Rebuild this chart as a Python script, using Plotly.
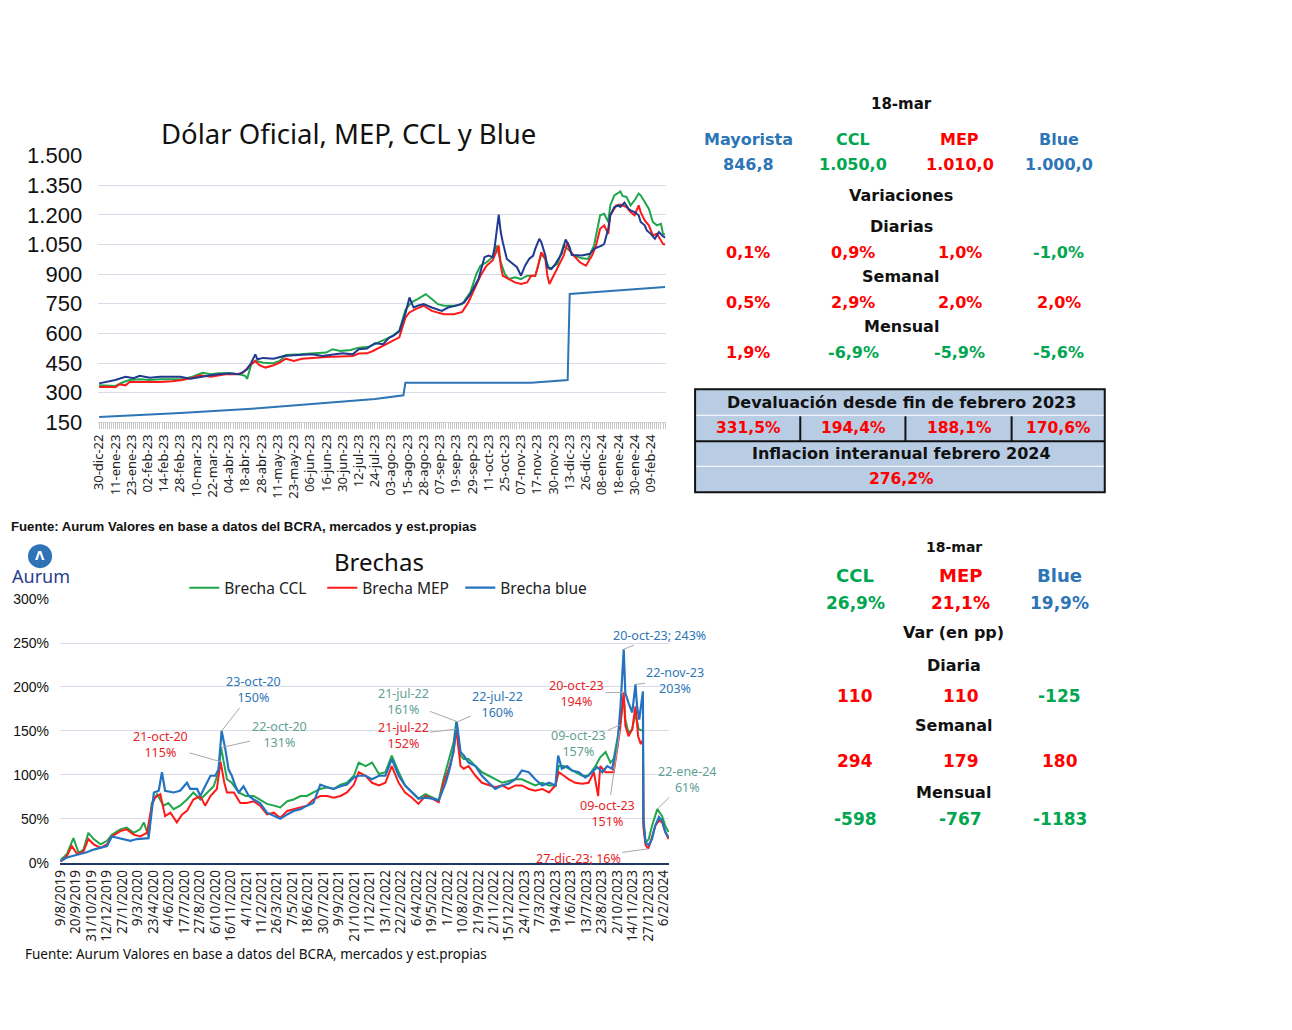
import plotly.graph_objects as go

# Page geometry: the plot sits inside the browser's default 8px body margin, and the captured
# picture maps page pixels to picture pixels as  pic = S * page + C  (measured on earlier runs).
# Layout positions below are given in reference-picture pixels and converted here.
MARGIN = 8
SX, SY = 0.989, 0.9765
CX, CY = 3.1, 3.4
W, H = 1276, 1014
def fx(x): return (x - CX) / SX - MARGIN
def fy(y): return (y - CY) / SY - MARGIN
def px(x): return fx(x) / W
def py(y): return 1 - fy(y) / H

# ---------------- TOP CHART DATA (x = business-day row index) ----------------
top_ticklabels = ["30-dic-22","11-ene-23","23-ene-23","02-feb-23","14-feb-23","28-feb-23","10-mar-23",
    "22-mar-23","04-abr-23","18-abr-23","28-abr-23","11-may-23","23-may-23","06-jun-23","16-jun-23",
    "30-jun-23","12-jul-23","24-jul-23","03-ago-23","15-ago-23","28-ago-23","07-sep-23","19-sep-23",
    "29-sep-23","11-oct-23","25-oct-23","07-nov-23","17-nov-23","30-nov-23","13-dic-23","26-dic-23",
    "08-ene-24","18-ene-24","30-ene-24","09-feb-24"]
top_tick_rows = [i * 8 for i in range(len(top_ticklabels))]
top_y_ticks = [150, 300, 450, 600, 750, 900, 1050, 1200, 1350, 1500]
top_y_labels = ["150", "300", "450", "600", "750", "900", "1.050", "1.200", "1.350", "1.500"]

oficial_row = [0, 40, 80, 120, 136, 150, 151, 213, 231, 232, 279]
oficial_val = [177, 197, 222, 256, 268, 287, 350, 350, 364, 800, 835]

ccl_row = [0,4,8,12,15,20,25,30,36,41,46,51,55,59,64,69,72,73,75,77,81,86,89,92,99,105,112,115,119,124,128,
    133,138,143,145,148,151,154,157,161,164,167,170,175,179,183,186,188,191,194,196,198,200,202,205,208,211,
    215,216,218,220,222,226,229,232,234,238,241,244,247,249,251,252,254,257,258,260,262,264,266,267,269,271,
    273,275,277,278,279]
ccl_val = [337,334,334,354,364,368,364,368,368,368,381,401,393,398,398,393,385,370,444,461,452,449,461,491,494,
    498,503,520,511,516,528,533,554,579,590,615,720,757,774,799,774,748,740,740,748,808,901,943,960,986,1045,
    960,901,875,884,875,892,892,926,1003,977,926,952,1045,1019,994,980,977,1045,1198,1206,1164,1248,1299,1319,
    1296,1291,1248,1274,1308,1299,1265,1231,1164,1147,1155,1104,1100]

mep_row = [0,4,8,10,13,15,22,30,36,41,46,50,55,59,63,68,71,74,77,79,82,86,89,92,96,100,105,112,119,125,128,132,
    135,140,145,148,151,153,156,160,164,167,170,175,179,182,185,188,191,194,196,197,198,199,202,205,208,211,
    213,215,216,218,220,221,222,224,226,229,231,232,234,237,240,243,245,247,249,251,252,255,257,260,262,264,
    266,267,269,271,273,275,278,279]
mep_val = [329,330,327,342,337,354,354,354,358,364,376,388,381,388,395,393,401,435,461,439,427,439,452,472,461,
    472,477,481,483,486,498,499,511,537,562,580,680,706,723,740,714,706,697,697,709,757,825,892,943,969,1019,
    1045,943,892,875,858,850,858,892,892,926,1011,977,892,850,892,935,994,1062,1019,994,960,943,994,1045,1130,
    1147,1104,1198,1248,1252,1240,1214,1198,1248,1214,1172,1147,1096,1104,1053,1050]

blue_row = [0,4,8,13,17,20,25,30,35,40,45,50,55,59,64,69,73,75,77,78,81,86,91,96,101,105,110,115,120,125,128,132,
    136,140,143,145,148,151,153,155,157,160,164,169,172,177,180,183,187,190,192,194,195,197,198,199,201,203,
    206,208,210,212,214,215,217,218,220,221,223,225,228,230,232,233,238,242,244,248,249,251,252,254,256,257,
    259,261,262,264,266,267,269,270,272,274,276,278,279]
blue_val = [347,354,364,380,373,385,376,381,381,380,371,381,388,393,398,393,418,452,494,469,476,472,486,489,491,
    494,486,494,499,494,520,523,550,545,579,587,610,700,782,731,740,748,731,714,731,743,757,799,875,986,994,986,
    1036,1201,1113,1062,977,960,935,892,943,977,994,1028,1079,1062,994,935,926,952,1003,1075,1036,997,994,1003,
    1028,1045,1053,1130,1198,1240,1248,1240,1262,1231,1223,1214,1198,1164,1147,1121,1104,1079,1113,1092,1085]

# ---------------- BOTTOM CHART DATA (x = business-day row index) ----------------
bot_ticklabels = ["9/8/2019","20/9/2019","31/10/2019","12/12/2019","27/1/2020","9/3/2020","23/4/2020",
    "4/6/2020","17/7/2020","27/8/2020","6/10/2020","16/11/2020","4/1/2021","11/2/2021","26/3/2021","7/5/2021",
    "18/6/2021","30/7/2021","9/9/2021","21/10/2021","1/12/2021","13/1/2022","22/2/2022","6/4/2022","19/5/2022",
    "1/7/2022","10/8/2022","21/9/2022","2/11/2022","15/12/2022","24/1/2023","7/3/2023","19/4/2023","1/6/2023",
    "13/7/2023","23/8/2023","2/10/2023","14/11/2023","27/12/2023","6/2/2024"]
bot_tick_rows = [i * 29 for i in range(len(bot_ticklabels))]
bot_y_ticks = [0, 50, 100, 150, 200, 250, 300]
bot_y_labels = ["0%", "50%", "100%", "150%", "200%", "250%", "300%"]

b_ccl_row = [0,12,24,34,43,52,62,75,87,96,112,124,137,149,156,165,171,181,193,202,212,224,237,249,262,275,287,
    296,301,312,321,334,347,362,374,387,400,412,425,437,450,462,474,487,500,512,525,537,550,559,572,584,597,
    609,621,634,646,659,671,684,697,709,718,728,737,742,750,756,765,778,790,803,815,828,840,853,865,878,890,
    903,916,928,934,944,953,965,978,990,1003,1012,1022,1031,1037,1049,1056,1059,1065,1072,1078,1084,1092,1093,
    1097,1103,1109,1119,1124,1128,1134,1140]
b_ccl_val = [3,10,28,11,15,34,27,21,25,32,38,40,34,38,46,30,68,78,65,68,61,65,72,80,72,80,87,103,131,95,91,80,
    76,76,72,67,65,63,70,72,76,76,80,84,86,84,89,91,99,114,110,114,101,103,122,103,88,80,73,78,74,71,95,118,137,
    161,122,118,118,110,103,99,95,91,93,95,95,91,88,91,88,88,110,110,107,103,99,99,110,120,126,114,118,157,190,
    163,148,152,171,152,150,45,23,27,42,61,57,53,42,35]

b_mep_row = [0,12,21,31,43,52,62,75,87,96,112,124,137,149,162,171,177,187,196,206,218,228,237,249,262,271,281,
    293,300,307,312,325,337,349,362,374,387,400,412,425,437,450,462,474,487,500,512,525,537,550,559,572,584,
    597,609,621,634,646,659,671,684,697,709,718,728,737,742,750,756,765,778,790,803,815,828,840,853,865,878,
    890,903,916,928,934,944,953,965,978,990,1000,1008,1012,1022,1037,1041,1049,1056,1059,1065,1072,1078,1083,
    1088,1092,1093,1097,1102,1106,1115,1122,1128,1134,1140]
b_mep_val = [1,8,19,10,13,27,21,17,21,30,36,38,32,30,34,65,74,78,53,57,46,55,59,72,76,65,76,84,115,91,80,80,68,
    68,70,65,55,57,51,59,61,63,65,72,76,76,74,76,80,89,103,99,91,88,91,110,91,80,74,67,76,73,69,91,107,126,152,
    110,107,110,99,91,88,86,88,84,88,88,84,82,84,80,88,103,99,95,91,90,91,103,76,110,103,103,118,151,194,156,
    144,152,178,144,135,140,40,20,16,23,42,48,46,35,27]

b_blue_row = [0,12,24,37,49,62,75,87,96,112,131,143,156,165,175,184,190,196,212,224,237,243,256,262,271,281,290,
    296,302,309,315,321,328,334,343,353,362,374,387,400,412,425,437,450,462,474,487,500,512,525,537,550,559,
    572,584,597,609,621,634,646,659,671,684,697,709,722,731,737,743,750,756,765,778,790,803,815,828,840,853,
    865,878,890,903,916,928,933,940,950,959,972,984,997,1006,1016,1025,1034,1044,1050,1056,1059,1065,1072,
    1078,1081,1085,1092,1093,1097,1103,1109,1115,1122,1128,1134,1140]
b_blue_val = [2,6,8,10,12,15,17,19,30,28,25,27,28,28,80,82,103,82,80,82,91,84,84,76,87,99,99,106,150,129,106,99,
    87,80,87,76,72,68,57,53,50,55,59,61,65,68,89,86,84,87,89,97,99,99,95,99,99,118,99,88,80,73,74,73,71,91,110,
    129,160,126,122,114,110,99,91,84,88,90,95,105,103,95,88,91,88,122,107,110,105,103,97,103,109,103,110,107,133,
    178,243,193,182,171,203,178,163,195,50,23,20,27,42,52,48,35,29]

# annotated points: (series, row, value, label)
ann_series = ["mep", "blue", "ccl", "ccl", "blue", "mep", "mep", "ccl", "blue", "blue", "mep", "ccl", "mep"]
ann_rows = [300, 302, 301, 742, 743, 742, 1056, 1049, 1056, 1078, 1049, 1119, 1102]
ann_vals = [115, 150, 131, 161, 160, 152, 194, 157, 243, 203, 151, 61, 16]
ann_labels = ["21-oct-20<br>115%", "23-oct-20<br>150%", "22-oct-20<br>131%", "21-jul-22<br>161%",
    "22-jul-22<br>160%", "21-jul-22<br>152%", "20-oct-23<br>194%", "09-oct-23<br>157%", "20-oct-23; 243%",
    "22-nov-23<br>203%", "09-oct-23<br>151%", "22-ene-24<br>61%", "27-dic-23; 16%"]
ann_offsets = [(-60, -17), (32, -41), (58, -13), (-53, -20), (41, -18), (-53, 6), (-47, 1), (-41, 19),
    (36, -14), (40, -4), (-12, 83), (30, -30), (-70, 10)]

# ---------------- TABLES ----------------
t1_heads = ["Mayorista", "CCL", "MEP", "Blue"]
t1_prices = ["846,8", "1.050,0", "1.010,0", "1.000,0"]
t1_diarias = ["0,1%", "0,9%", "1,0%", "-1,0%"]
t1_semanal = ["0,5%", "2,9%", "2,0%", "2,0%"]
t1_mensual = ["1,9%", "-6,9%", "-5,9%", "-5,6%"]
t1_deval = ["331,5%", "194,4%", "188,1%", "170,6%"]
t1_inflacion = "276,2%"

t2_heads = ["CCL", "MEP", "Blue"]
t2_brecha = ["26,9%", "21,1%", "19,9%"]
t2_diaria = ["110", "110", "-125"]
t2_semanal = ["294", "179", "180"]
t2_mensual = ["-598", "-767", "-1183"]

# ---------------- STYLE ----------------
GREEN = "#1fa64b"
RED = "#ff1a1a"
NAVY = "#1f3a8f"
OFI = "#2e75b6"
BBLUE = "#2473c0"
TEAL = "#5f9f93"
TXT_BLUE = "#2e75b6"
TXT_GREEN = "#00a650"
TXT_RED = "#ff0000"
GRID = "#d9dbe8"
ROUND = "Noto Sans, Lato, sans-serif"
TAB = "DejaVu Sans, Verdana, sans-serif"

fig = go.Figure()
fig.add_trace(go.Scatter(x=oficial_row, y=oficial_val, mode="lines", line=dict(color=OFI, width=2),
                         xaxis="x", yaxis="y", showlegend=False, name="Oficial"))
fig.add_trace(go.Scatter(x=ccl_row, y=ccl_val, mode="lines", line=dict(color=GREEN, width=2),
                         xaxis="x", yaxis="y", showlegend=False, name="CCL"))
fig.add_trace(go.Scatter(x=mep_row, y=mep_val, mode="lines", line=dict(color=RED, width=2),
                         xaxis="x", yaxis="y", showlegend=False, name="MEP"))
fig.add_trace(go.Scatter(x=blue_row, y=blue_val, mode="lines", line=dict(color=NAVY, width=2),
                         xaxis="x", yaxis="y", showlegend=False, name="Blue"))

fig.add_trace(go.Scatter(x=b_ccl_row, y=b_ccl_val, mode="lines", line=dict(color=GREEN, width=2),
                         xaxis="x2", yaxis="y2", name="Brecha CCL"))
fig.add_trace(go.Scatter(x=b_mep_row, y=b_mep_val, mode="lines", line=dict(color=RED, width=2),
                         xaxis="x2", yaxis="y2", name="Brecha MEP"))
fig.add_trace(go.Scatter(x=b_blue_row, y=b_blue_val, mode="lines", line=dict(color=BBLUE, width=2.2),
                         xaxis="x2", yaxis="y2", name="Brecha blue"))

ann = []
def txt(x, y, s, color="#111", size=15, family=TAB, bold=True, xanchor="center"):
    ann.append(dict(x=px(x), y=py(y), xref="paper", yref="paper", showarrow=False,
                    text=("<b>%s</b>" % s) if bold else s, xanchor=xanchor, yanchor="middle",
                    font=dict(color=color, size=size, family=family)))

# titles & sources
txt(350, 133, "Dólar Oficial, MEP, CCL y Blue", "#111", 27.5, ROUND, bold=False)
txt(380, 561, "Brechas", "#111", 24, ROUND, bold=False)
txt(11.5, 526, "Fuente: Aurum Valores en base a datos del BCRA, mercados y est.propias", "#111", 13.2,
    "Liberation Sans, Arial, sans-serif", bold=True, xanchor="left")
txt(25, 954, "Fuente: Aurum Valores en base a datos del BCRA, mercados y est.propias", "#111", 13.5,
    ROUND, bold=False, xanchor="left")
# logo
txt(42, 556, "Λ", "white", 12, "DejaVu Sans", bold=True)
txt(43, 576, "Aurum", "#2b3d8c", 18, ROUND, bold=False)

# top table
cols1 = [749, 854, 960, 1059]
col_colors = [TXT_BLUE, TXT_GREEN, TXT_RED, TXT_BLUE]
def vcolor(s):
    return TXT_GREEN if s.startswith("-") else TXT_RED
txt(902, 103, "18-mar", "#111", 15)
for c, h, p, col in zip(cols1, t1_heads, t1_prices, col_colors):
    txt(c, 139, h, col, 16)
    txt(c, 164, p, col, 16)
txt(902, 195, "Variaciones", "#111", 16)
txt(902, 226, "Diarias", "#111", 16)
txt(902, 276, "Semanal", "#111", 16)
txt(902, 326, "Mensual", "#111", 16)
for c, a, b, m in zip(cols1, t1_diarias, t1_semanal, t1_mensual):
    txt(c, 252, a, vcolor(a), 16)
    txt(c, 302, b, vcolor(b), 16)
    txt(c, 352, m, vcolor(m), 16)

# box
deval_cols = [749, 854, 960, 1059]
txt(902, 402, "Devaluación desde fin de febrero 2023", "#111", 16)
for c, v in zip(deval_cols, t1_deval):
    txt(c, 428, v, TXT_RED, 15.5)
txt(902, 453, "Inflacion interanual febrero 2024", "#111", 16)
txt(902, 479, t1_inflacion, TXT_RED, 15.5)

# bottom table
cols2 = [856, 961, 1060]
col2_colors = [TXT_GREEN, TXT_RED, TXT_BLUE]
txt(954, 547, "18-mar", "#111", 14)
for c, h, v, col in zip(cols2, t2_heads, t2_brecha, col2_colors):
    txt(c, 575, h, col, 18)
    txt(c, 603, v, col, 17)
txt(954, 632, "Var (en pp)", "#111", 16)
txt(954, 665, "Diaria", "#111", 16)
txt(954, 726, "Semanal", "#111", 16)
txt(954, 793, "Mensual", "#111", 16)
for c, a, b, m in zip(cols2, t2_diaria, t2_semanal, t2_mensual):
    txt(c, 696, a, vcolor(a), 17)
    txt(c, 761, b, vcolor(b), 17)
    txt(c, 819, m, vcolor(m), 17)

# chart annotations with leader lines
ann_colors = {"mep": "#e8231f", "blue": "#2e75b6", "ccl": TEAL}
for s, r, v, lab, (dx, dy) in zip(ann_series, ann_rows, ann_vals, ann_labels, ann_offsets):
    ann.append(dict(x=r, y=v, xref="x2", yref="y2", text=lab, showarrow=True, arrowhead=0,
                    arrowwidth=1, arrowcolor="#a8a8a8", ax=dx, ay=dy, standoff=0,
                    font=dict(color=ann_colors[s], size=12.5, family=ROUND)))

shapes = [
    # logo circle
    dict(type="circle", xref="paper", yref="paper", x0=px(30), x1=px(54), y0=py(568), y1=py(544),
         fillcolor="#2f72b5", line=dict(width=0)),
    # box
    dict(type="rect", xref="paper", yref="paper", x0=px(696), x1=px(1105), y0=py(492), y1=py(389),
         fillcolor="#b8cce4", line=dict(color="#111", width=2), layer="below"),
    dict(type="line", xref="paper", yref="paper", x0=px(697), x1=px(1104), y0=py(415), y1=py(415),
         line=dict(color="white", width=1)),
    dict(type="line", xref="paper", yref="paper", x0=px(697), x1=px(1104), y0=py(466), y1=py(466),
         line=dict(color="white", width=1)),
    dict(type="line", xref="paper", yref="paper", x0=px(696), x1=px(1105), y0=py(441), y1=py(441),
         line=dict(color="#111", width=2)),
]
for xv in [801, 906, 1012]:
    shapes.append(dict(type="line", xref="paper", yref="paper", x0=px(xv), x1=px(xv), y0=py(441), y1=py(416),
                       line=dict(color="#111", width=2)))

fig.update_layout(
    width=W, height=H, margin=dict(l=0, r=0, t=0, b=0),
    paper_bgcolor="white", plot_bgcolor="white",
    annotations=ann, shapes=shapes,
    showlegend=True,
    legend=dict(orientation="h", x=px(186), y=py(588), xanchor="left", yanchor="middle",
                font=dict(size=15.5, family=ROUND, color="#222"), bgcolor="rgba(0,0,0,0)",
                entrywidth=93, entrywidthmode="pixels", itemwidth=30),
    xaxis=dict(domain=[px(100), px(667)], range=[-0.5, 279.5], anchor="y",
               tickmode="array", tickvals=top_tick_rows, ticktext=top_ticklabels, tickangle=-90,
               tickfont=dict(size=13, family=ROUND, color="#222"), showgrid=False, zeroline=False,
               ticks="outside", ticklen=6, tickcolor="#c0c0c0", showline=True, linecolor="#d0d0d0",
               minor=dict(tickmode="linear", tick0=0, dtick=1, ticks="outside", ticklen=6,
                          tickcolor="#c8c8c8", showgrid=False)),
    yaxis=dict(domain=[py(422), py(155)], range=[150, 1500], anchor="x",
               tickmode="array", tickvals=top_y_ticks, ticktext=top_y_labels,
               tickfont=dict(size=22, family="Liberation Sans Narrow, Liberation Sans, sans-serif", color="#111"),
               gridcolor=GRID, zeroline=False, ticklabelstandoff=15),
    xaxis2=dict(domain=[px(62), px(670)], range=[-1, 1141], anchor="y2",
                tickmode="array", tickvals=bot_tick_rows, ticktext=bot_ticklabels, tickangle=-90,
                tickfont=dict(size=13.5, family=ROUND, color="#222"), showgrid=False, zeroline=False,
                showline=True, linecolor="#1f3864", linewidth=1.5, ticks=""),
    yaxis2=dict(domain=[py(863), py(599)], range=[0, 300], anchor="x2",
                tickmode="array", tickvals=bot_y_ticks, ticktext=bot_y_labels,
                tickfont=dict(size=14, family="Liberation Sans, Arial, sans-serif", color="#111"),
                gridcolor=GRID, zeroline=False, ticklabelstandoff=10),
)

fig.write_html("out.html")
